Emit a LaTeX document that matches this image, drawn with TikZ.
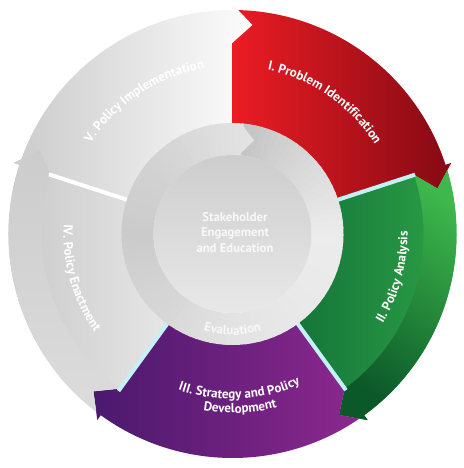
\documentclass[tikz,border=0pt]{standalone}
\usepackage{fontspec}
\setmainfont{PT Sans}
\usetikzlibrary{decorations.text}

\definecolor{redL}{HTML}{EC1C24}
\definecolor{redR}{HTML}{850A14}
\definecolor{grnL}{HTML}{15753A}
\definecolor{grnR}{HTML}{2FA647}
\definecolor{grnBT}{HTML}{3EB84C}
\definecolor{grnBB}{HTML}{0B5829}
\definecolor{purL}{HTML}{4A196D}
\definecolor{purR}{HTML}{8C288F}
\definecolor{gVL}{HTML}{CDCDCD}
\definecolor{gVR}{HTML}{FDFDFD}
\definecolor{gIVL}{HTML}{C6C6C6}
\definecolor{gIVR}{HTML}{E6E6E6}
\definecolor{gIVBT}{HTML}{CCCCCC}
\definecolor{gIVBB}{HTML}{DCDCDC}
\definecolor{sepcyan}{HTML}{C3F1F5}
\definecolor{rA}{HTML}{C3C3C3}
\definecolor{rB}{HTML}{D8D8D8}
\definecolor{rC}{HTML}{ECECEC}
\definecolor{rD}{HTML}{E9E9E9}
\definecolor{rE}{HTML}{E3E3E3}
\definecolor{rF}{HTML}{D6D6D6}
\definecolor{rG}{HTML}{CBCBCB}
\definecolor{rH}{HTML}{D3D3D3}
\definecolor{rI}{HTML}{E2E2E2}
\definecolor{cirT}{HTML}{CDCDCD}
\definecolor{cirB}{HTML}{E8E8E8}
\definecolor{txtW}{HTML}{F8F8F8}

\newcommand\mySegFull[2]{(#1:110pt) -- (#1:191pt) -- ({#1-5.5}:210pt) -- ({#1-1.5}:224pt) arc[start angle={#1-1.5}, end angle={#2}, radius=224pt] -- (#2:230pt) -- ({#2-5.5}:210pt) -- (#2:191pt) -- (#2:110pt) arc[start angle={#2}, end angle={#1}, radius=110pt] -- cycle}
\newcommand\mySegBand[2]{(#1:191pt) -- ({#1-5.5}:210pt) -- ({#1-1.5}:224pt) arc[start angle={#1-1.5}, end angle={#2}, radius=224pt] -- (#2:230pt) -- ({#2-5.5}:210pt) -- (#2:191pt) arc[start angle={#2}, end angle={#1}, radius=191pt] -- cycle}
\newcommand\segfont{\fontsize{13pt}{15pt}\selectfont\bfseries\color{white}}
\newcommand\evalfont{\fontsize{13pt}{15pt}\selectfont\bfseries\color{txtW}}

\tikzset{
  seplineC/.style={sepcyan, line width=4pt},
  seplineW/.style={white, line width=4pt},
}

\begin{document}
\begin{tikzpicture}
\fill[white] (-232.5pt,-234pt) rectangle (230.5pt,234pt);
\useasboundingbox (-232.5pt,-234pt) rectangle (230.5pt,234pt);

% segments
\shade[left color=gVL, right color=gVR] \mySegFull{162}{90};
\shade[left color=redL, right color=redR] \mySegFull{90}{18};
\shade[left color=grnL, right color=grnR] \mySegFull{18}{-54};
\shade[top color=grnBT, bottom color=grnBB, shading angle=-35] \mySegBand{18}{-54};
\shade[left color=purL, right color=purR] \mySegFull{-54}{-126};
\shade[left color=gIVL, right color=gIVR] \mySegFull{-126}{-198};
\shade[top color=gIVBT, bottom color=gIVBB] \mySegBand{-126}{-198};

% separators
\draw[seplineC] (18:110pt) -- (18:192pt);
\draw[seplineC] (-54:110pt) -- (-54:193pt);
\draw[seplineC] (-126:110pt) -- (-126:194pt);
\draw[seplineW] (162:110pt) -- (162:193pt);

% middle ring (conic gradient)
\foreach \a/\b/\ca/\cb in {85/45/rA/rB, 45/0/rB/rC, 0/-45/rC/rD, -45/-90/rD/rE, -90/-135/rE/rF, -135/-180/rF/rG, -180/-225/rG/rH, -225/-275/rH/rI}{
  \foreach \i in {0,...,11}{
    \pgfmathsetmacro\sA{\a+(\b-\a)*\i/12}
    \pgfmathsetmacro\sB{\a+(\b-\a)*(\i+1.25)/12}
    \pgfmathtruncatemacro\pc{100-100*(\i+0.5)/12}
    \fill[\ca!\pc!\cb] (\sA:79pt) arc[start angle=\sA, end angle=\sB, radius=79pt] -- (\sB:111pt) arc[start angle=\sB, end angle=\sA, radius=111pt] -- cycle;
  }
}
\fill[rI] (85.6:111pt) -- (77:96pt) -- (85.6:79pt) -- cycle;

% inner circle
\shade[top color=cirT, bottom color=cirB] (0,0) circle[radius=79pt];
\node[align=center, text=txtW, font=\fontsize{12.7pt}{15.5pt}\selectfont\bfseries] (centre) at (2.5pt,1.5pt) {Stakeholder\\Engagement\\and Education};

% ring label
\path[decorate, decoration={text along path, text align=center, text={|\evalfont|Evaluation}}] (-126:101pt) arc[start angle=-126, end angle=-54, radius=101pt];

% segment labels
\path[decorate, decoration={text along path, text align=center, text={|\segfont|I. Problem Identification}}] (91:168pt) arc[start angle=91, end angle=19, radius=168pt];
\path[decorate, decoration={text along path, text align=center, text={|\segfont|V. Policy Implementation}}] (159.5:168pt) arc[start angle=159.5, end angle=87.5, radius=168pt];
\path[decorate, decoration={text along path, text align=center, text={|\segfont|II. Policy Analysis}}] (-51:175pt) arc[start angle=-51, end angle=21, radius=175pt];
\path[decorate, decoration={text along path, text align=center, text={|\segfont|IV. Policy Enactment}}] (160:169pt) arc[start angle=160, end angle=232, radius=169pt];
\path[decorate, decoration={text along path, text align=center, text={|\segfont|III. Strategy and Policy}}] (-123.5:165pt) arc[start angle=-123.5, end angle=-51.5, radius=165pt];
\path[decorate, decoration={text along path, text align=center, text={|\segfont|Development}}] (-123.5:179pt) arc[start angle=-123.5, end angle=-51.5, radius=179pt];
\end{tikzpicture}
\end{document}
